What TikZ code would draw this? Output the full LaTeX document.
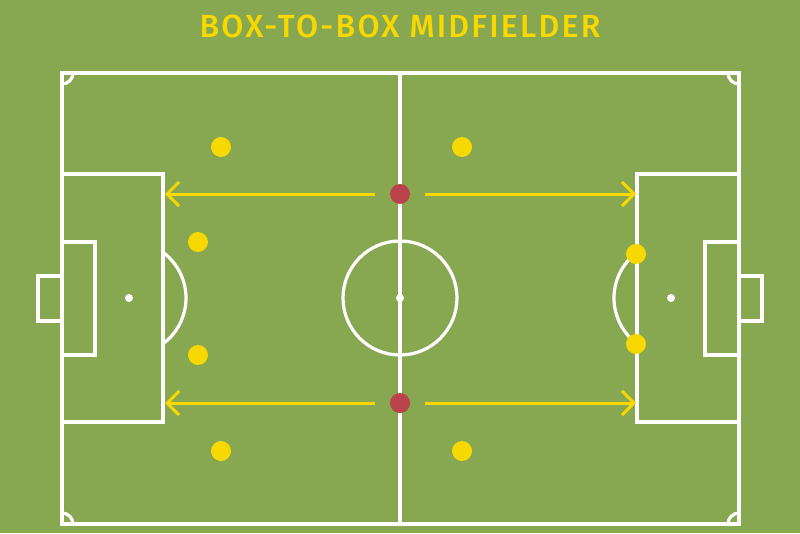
\documentclass[tikz,border=0pt]{standalone}
\usepackage{fontspec}
\setmainfont{Fira Sans}
\newfontfamily\titlefont[UprightFont=* Medium,LetterSpace=7]{Fira Sans}
\usetikzlibrary{arrows.meta}
\definecolor{pitch}{HTML}{87A750}
\definecolor{ply}{HTML}{F7D800}
\definecolor{mid}{HTML}{B94349}
\begin{document}
\begin{tikzpicture}[x=1pt,y=-1pt,
  line/.style={draw=white,line width=3.2pt},
  yplayer/.style={circle,fill=ply,minimum size=20pt,inner sep=0pt},
  rplayer/.style={circle,fill=mid,minimum size=20pt,inner sep=0pt},
  run/.style={draw=ply,line width=3pt,shorten <=15pt,-{Straight Barb[length=12pt,width=24pt,line width=3pt]}},
  spot/.style={circle,fill=white,minimum size=8pt,inner sep=0pt}]
\fill[pitch] (0,0) rectangle (800,533);
\useasboundingbox (0,0) rectangle (800,533);
% title
\node[text=ply,font=\titlefont\fontsize{32}{32}\selectfont,anchor=base] (title) at (400,37) {BOX-TO-BOX MIDFIELDER};
% pitch
\draw[line] (62,73) rectangle (739,524);
\draw[line] (400,73) -- (400,524);
\draw[line] (400,298) circle (57);
\node[spot] (cspot) at (400,298) {};
% left
\draw[line] (62,174) rectangle (163,422);
\draw[line] (62,242) rectangle (95,355);
\draw[line] (62,276) -- (38,276) -- (38,321) -- (62,321);
\node[spot] (lspot) at (129,298) {};
\draw[line] (163,252.3) arc[start angle=-53.4,end angle=53.4,radius=57];
% right
\draw[line] (637,174) rectangle (739,422);
\draw[line] (705,242) rectangle (739,355);
\draw[line] (739,276) -- (762,276) -- (762,321) -- (739,321);
\node[spot] (rspot) at (671,298) {};
\draw[line] (637,252.3) arc[start angle=233.4,end angle=126.6,radius=57];
% corners
\draw[line] (73,73) arc[start angle=0,end angle=90,radius=11];
\draw[line] (728,73) arc[start angle=180,end angle=90,radius=11];
\draw[line] (73,524) arc[start angle=0,end angle=-90,radius=11];
\draw[line] (728,524) arc[start angle=180,end angle=270,radius=11];
% players
\node[rplayer] (m1) at (400,194) {};
\node[rplayer] (m2) at (400,403) {};
\coordinate (l1) at (165,194);
\coordinate (r1) at (636,194);
\coordinate (l2) at (165,403);
\coordinate (r2) at (636,403);
\draw[run] (m1.west) -- (l1);
\draw[run] (m1.east) -- (r1);
\draw[run] (m2.west) -- (l2);
\draw[run] (m2.east) -- (r2);
\node[yplayer] (p1) at (221,147) {};
\node[yplayer] (p2) at (462,147) {};
\node[yplayer] (p3) at (198,242) {};
\node[yplayer] (p4) at (198,355) {};
\node[yplayer] (p5) at (221,451) {};
\node[yplayer] (p6) at (462,451) {};
\node[yplayer] (p7) at (636,254) {};
\node[yplayer] (p8) at (636,344) {};
\end{tikzpicture}
\end{document}
